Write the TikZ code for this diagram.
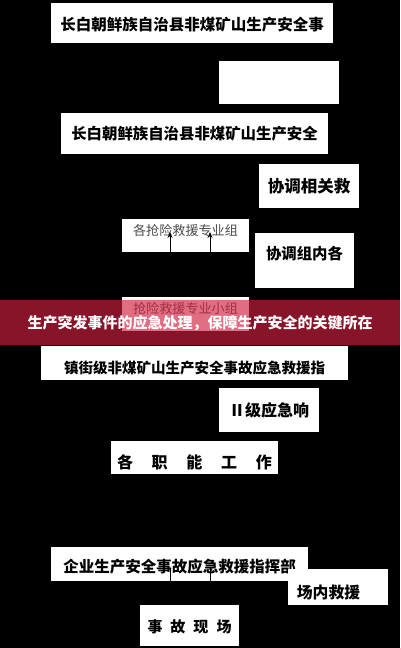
\documentclass[tikz,border=0pt]{standalone}
\usepackage{fontspec}
\newfontfamily\cjk{Noto Sans CJK SC}
\newcommand{\fsz}[1]{\fontsize{#1}{#1}\selectfont}
\definecolor{banner}{RGB}{208,31,62}
\usetikzlibrary{arrows.meta}

\begin{document}
\begin{tikzpicture}[>={Stealth[length=6pt,width=5pt]}, x=1pt, y=-1pt,
  box/.style={fill=white, inner sep=0pt},
  bf/.style={font=\cjk\bfseries\fsz{#1}},
  grp/.style={box, minimum width=127, minimum height=33, text height=10.5pt, text depth=10.6pt, font=\cjk\fsz{13.1}, text=black!70}]
\useasboundingbox (0,0) rectangle (400,648);
\fill[black] (0,0) rectangle (400,648);

\node[box, bf=15.5, minimum width=282, minimum height=40, text height=19.6pt, text depth=3.9pt] (head) at (192,23) {长白朝鲜族自治县非煤矿山生产安全事};
\node[box, minimum width=120, minimum height=43] (blank) at (279,82.5) {};
\node[box, bf=15.4, minimum width=267, minimum height=41, text height=18.1pt, text depth=5.3pt] (county) at (194.5,133.5) {长白朝鲜族自治县非煤矿山生产安全};
\node[box, bf=16.5, minimum width=100, minimum height=44, text height=18.5pt, text depth=6pt] (assist) at (309,186) {协调相关救};
\node[grp] (groups) at (185.5,235.5) {各抢险救援专业组};
\node[box, bf=15.4, minimum width=99, minimum height=55, text height=10.6pt, text depth=12.8pt] (coord) at (304.5,260.5) {协调组内各};
\node[grp, minimum height=34] (squad) at (185.5,314) {抢险救援专业小组};
\node[box, bf=14.5, minimum width=307, minimum height=34, text height=21.3pt, text depth=1.2pt] (town) at (194.5,363) {镇街级非煤矿山生产安全事故应急救援指};
\node[box, bf=16, minimum width=100, minimum height=44, text height=18.1pt, text depth=5.9pt] (level) at (269,410) {Ⅱ级应急响};
\node[box, bf=16, minimum width=167, minimum height=33, text height=23.1pt, text depth=.9pt] (duty) at (194.5,457.5) {各\hspace{18.75pt}职\hspace{18.75pt}能\hspace{18.75pt}工\hspace{18.75pt}作};
\node[box, bf=15.5, minimum width=257, minimum height=34, text height=20.6pt, text depth=2.9pt] (firm) at (179.5,564) {企业生产安全事故应急救援指挥部};
\node[box, bf=15.8, minimum width=100, minimum height=36, text height=23.4pt, text depth=.4pt] (onsite) at (338,587) {场内救援\kern19pt};
\node[box, bf=15, minimum width=99, minimum height=41, text height=18.7pt, text depth=4.3pt] (scene) at (189.5,625.5) {事\hspace{8pt}故\hspace{8pt}现\hspace{8pt}场};

% arrows into the rescue groups
\coordinate (up1) at (170,232);
\coordinate (up2) at (210,232);
\draw[->, line width=.8pt] (groups.south -| up1) -- (up1);
\draw[->, line width=.8pt] (groups.south -| up2) -- (up2);
\coordinate (tick1) at (170,568);
\coordinate (tick2) at (210,568);
\draw[line width=.8pt] (tick1) -- (tick1 |- firm.south);
\draw[line width=.8pt] (tick2) -- (tick2 |- firm.south);

% banner
\fill[banner, opacity=.65] (0,300) rectangle (400,345);
\node[text=white, font=\cjk\bfseries\fsz{15}] (title) at (200,323) {生产突发事件的应急处理，保障生产安全的关键所在};
\end{tikzpicture}
\end{document}
